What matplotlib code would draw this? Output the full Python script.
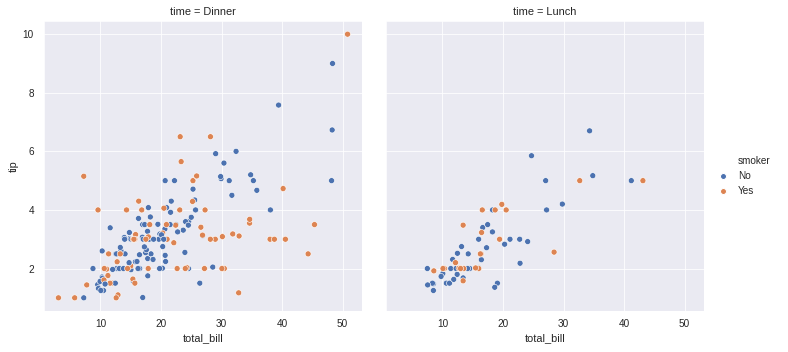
import numpy as np
import matplotlib
matplotlib.use("Agg")
import matplotlib.pyplot as plt
import seaborn as sns
from matplotlib.lines import Line2D

# tips, dinner service (bill, tip, smoker)
dinner_bill = [16.99, 10.34, 21.01, 23.68, 24.59, 25.29, 8.77, 26.88, 15.04, 14.78,
               10.27, 35.26, 15.42, 18.43, 14.83, 21.58, 10.33, 16.29, 16.97, 20.65,
               17.92, 20.29, 15.77, 39.42, 19.82, 17.81, 13.37, 12.69, 21.7, 19.65,
               9.55, 18.35, 15.06, 20.69, 17.78, 24.06, 16.31, 16.93, 18.69, 31.27,
               16.04, 17.46, 13.94, 9.68, 30.4, 18.29, 22.23, 32.4, 28.55, 18.04,
               12.54, 10.29, 34.81, 9.94, 25.56, 19.49, 38.01, 26.41, 11.24, 48.27,
               20.29, 13.81, 11.02, 18.29, 17.59, 20.08, 16.45, 3.07, 20.23, 15.01,
               12.02, 17.07, 26.86, 25.28, 14.73, 10.51, 17.92, 28.97, 22.49, 5.75,
               16.32, 22.75, 40.17, 27.28, 12.03, 21.01, 12.46, 11.35, 15.38, 44.3,
               22.42, 20.92, 15.36, 20.49, 25.21, 18.24, 14.31, 14.0, 7.25, 38.07,
               23.95, 25.71, 17.31, 29.93, 14.07, 13.13, 17.26, 24.55, 19.77, 29.85,
               48.17, 25.0, 13.39, 16.49, 21.5, 12.66, 16.21, 13.81, 17.51, 24.52,
               20.76, 31.71, 10.59, 10.63, 50.81, 15.81, 7.25, 31.85, 16.82, 32.9,
               17.89, 14.48, 9.6, 34.63, 34.65, 23.33, 45.35, 23.17, 40.55, 20.69,
               20.9, 30.46, 18.15, 23.1, 15.69, 26.59, 38.73, 24.27, 12.76, 30.06,
               25.89, 48.33, 13.27, 28.17, 12.9, 28.15, 11.59, 7.74, 30.14, 20.45,
               13.28, 22.12, 24.01, 15.69, 11.61, 10.77, 15.53, 10.07, 12.6, 32.83,
               35.83, 29.03, 27.18, 22.67, 17.82, 18.78]
dinner_tip = [1.01, 1.66, 3.5, 3.31, 3.61, 4.71, 2.0, 3.12, 1.96, 3.23,
              1.71, 5.0, 1.57, 3.0, 3.02, 3.92, 1.67, 3.71, 3.5, 3.35,
              4.08, 2.75, 2.23, 7.58, 3.18, 2.34, 2.0, 2.0, 4.3, 3.0,
              1.45, 2.5, 3.0, 2.45, 3.27, 3.6, 2.0, 3.07, 2.31, 5.0,
              2.24, 2.54, 3.06, 1.32, 5.6, 3.0, 5.0, 6.0, 2.05, 3.0,
              2.5, 2.6, 5.2, 1.56, 4.34, 3.51, 3.0, 1.5, 1.76, 6.73,
              3.21, 2.0, 1.98, 3.76, 2.64, 3.15, 2.47, 1.0, 2.01, 2.09,
              1.97, 3.0, 3.14, 5.0, 2.2, 1.25, 3.08, 3.0, 3.5, 1.0,
              4.3, 3.25, 4.73, 4.0, 1.5, 3.0, 1.5, 2.5, 3.0, 2.5,
              3.48, 4.08, 1.64, 4.06, 4.29, 3.76, 4.0, 3.0, 1.0, 4.0,
              2.55, 4.0, 3.5, 5.07, 2.5, 2.0, 2.74, 2.0, 2.0, 5.14,
              5.0, 3.75, 2.61, 2.0, 3.5, 2.5, 2.0, 2.0, 3.0, 3.48,
              2.24, 4.5, 1.61, 2.0, 10.0, 3.16, 5.15, 3.18, 4.0, 3.11,
              2.0, 2.0, 4.0, 3.55, 3.68, 5.65, 3.5, 6.5, 3.0, 5.0,
              3.5, 2.0, 3.5, 4.0, 1.5, 3.41, 3.0, 2.03, 2.23, 2.0,
              5.16, 9.0, 2.5, 6.5, 1.1, 3.0, 1.5, 1.44, 3.09, 3.0,
              2.72, 2.88, 2.0, 3.0, 3.39, 1.47, 3.0, 1.25, 1.0, 1.17,
              4.67, 5.92, 2.0, 2.0, 1.75, 3.0]
dinner_smoker = ("NNNNNNNNNN" "NNNNNNNNNN" "NNNNNNNNNN" "NNNNNNNNNN" "NNNNNNNNNN"
                 "NNNNNNYNYN" "YYYYNNNYNY" "NNYYNNYYNY" "YNYYYYNYYY"
                 "YNYYYNYNNN" "NNNNNNNNNN" "NNNNNNNNYN" "NNYYYYYYYY"
                 "YYYYYYYYYN" "YYYYYYYYYY" "YNYYYYYYYN" "NYYYNNYNYY"
                 "NNYYNN")

# tips, lunch service
lunch_bill = [27.2, 22.76, 17.29, 19.44, 16.66, 10.07, 32.68, 15.98, 34.83, 13.03,
              18.28, 24.71, 21.16, 10.65, 12.43, 24.08, 11.69, 13.42, 14.26, 15.95,
              12.48, 29.8, 8.52, 14.52, 11.38, 22.82, 19.08, 20.27, 11.17, 12.26,
              18.26, 8.51, 10.33, 14.15, 16.0, 13.16, 17.47, 34.3, 41.19, 27.05,
              16.43, 8.35, 18.64, 11.87, 9.78, 7.51, 19.81, 28.44, 15.48, 16.58,
              7.56, 10.34, 43.11, 13.0, 13.51, 18.71, 12.74, 13.0, 16.4, 20.53,
              16.47, 12.16, 13.42, 8.58, 15.98, 13.42, 16.27, 10.09]
lunch_tip = [4.0, 3.0, 2.71, 3.0, 3.4, 1.83, 5.0, 2.03, 5.17, 2.0,
             4.0, 5.85, 3.0, 1.5, 1.8, 2.92, 2.31, 1.68, 2.5, 2.0,
             2.52, 4.2, 1.48, 2.0, 2.0, 2.18, 1.5, 2.83, 1.5, 2.0,
             3.25, 1.25, 2.0, 2.0, 2.0, 2.75, 3.5, 6.7, 5.0, 5.0,
             2.3, 1.5, 1.36, 1.63, 1.73, 2.0, 4.19, 2.56, 2.02, 4.0,
             1.44, 2.0, 5.0, 2.0, 2.0, 4.0, 2.01, 2.0, 2.5, 4.0,
             3.23, 2.2, 3.48, 1.92, 3.0, 1.58, 2.5, 2.0]
lunch_smoker = ("NNNYNNYNNN" "NNNNNNNNNN" "NNNNNNNNNN" "NNNNYNNNNN"
                "NNNNNNYYYY" "NYYYYYYYYY" "YYYYNYYY")

sns.set_style("darkgrid")
plt.rcParams['font.family'] = ['Liberation Sans', 'DejaVu Sans']

blue = '#4c72b0'
orange = '#dd8452'

fig = plt.figure(figsize=(788 / 72, 352 / 72), dpi=72)
ax1 = fig.add_axes([44 / 788, 41 / 352, 318 / 788, 290 / 352])
ax2 = fig.add_axes([386 / 788, 41 / 352, 318 / 788, 290 / 352], sharex=ax1, sharey=ax1)

panels = [(ax1, dinner_bill, dinner_tip, dinner_smoker, 'Dinner'),
          (ax2, lunch_bill, lunch_tip, lunch_smoker, 'Lunch')]

for ax, bill, tip, smk, name in panels:
    cols = [orange if s == 'Y' else blue for s in smk]
    ax.scatter(bill, tip, c=cols, s=36, edgecolors='white', linewidths=0.6, zorder=3)
    ax.set_title('time = ' + name, fontsize=11, pad=6)
    ax.set_xlabel('total_bill', fontsize=11, labelpad=4)
    ax.tick_params(axis='x', length=0, labelsize=10, pad=8)
    ax.tick_params(axis='y', length=0, labelsize=10, pad=10)

all_bill = dinner_bill + lunch_bill
all_tip = dinner_tip + lunch_tip
xr = max(all_bill) - min(all_bill)
yr = max(all_tip) - min(all_tip)
ax1.set_xlim(min(all_bill) - 0.05 * xr, max(all_bill) + 0.05 * xr)
ax1.set_ylim(min(all_tip) - 0.05 * yr, max(all_tip) + 0.05 * yr)
ax1.set_xticks([10, 20, 30, 40, 50])
ax1.set_yticks([2, 4, 6, 8, 10])
ax1.set_ylabel('tip', fontsize=11, labelpad=4)
plt.setp(ax2.get_yticklabels(), visible=False)

handles = [Line2D([], [], linestyle='none', marker=''),
           Line2D([], [], linestyle='none', marker='o', markersize=6,
                  markerfacecolor=blue, markeredgecolor='white'),
           Line2D([], [], linestyle='none', marker='o', markersize=6,
                  markerfacecolor=orange, markeredgecolor='white')]
fig.legend(handles, ['smoker', 'No', 'Yes'], loc='center left',
           bbox_to_anchor=(708 / 788, 176 / 352), frameon=False, fontsize=10,
           handlelength=1.2, handletextpad=0.9, labelspacing=0.55)

fig.savefig('out.png', dpi=72)
